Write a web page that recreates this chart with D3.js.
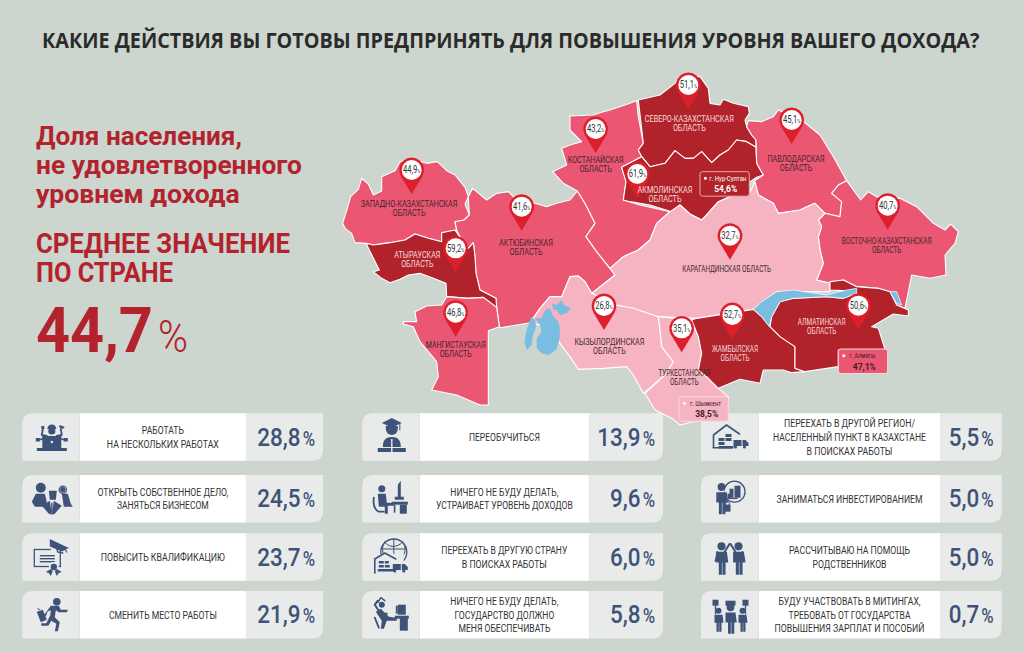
<!DOCTYPE html><html><head><meta charset="utf-8">
<style>html,body{margin:0;padding:0;background:#ccd5ce}svg{display:block}text{font-family:Roboto,sans-serif}</style>
<script src="https://cdnjs.cloudflare.com/ajax/libs/d3/7.8.5/d3.min.js"></script></head><body><svg id="c" width="1024" height="652"></svg>
<script>
// ---------- data ----------
const chartTitle="КАКИЕ ДЕЙСТВИЯ ВЫ ГОТОВЫ ПРЕДПРИНЯТЬ ДЛЯ ПОВЫШЕНИЯ УРОВНЯ ВАШЕГО ДОХОДА?";
const introLines=["Доля населения,","не удовлетворенного","уровнем дохода"];
const averageLines=["СРЕДНЕЕ ЗНАЧЕНИЕ","ПО СТРАНЕ"];
const nationalAverage=44.7;

const regionNames=[["ЗАПАДНО-КАЗАХСТАНСКАЯ","ОБЛАСТЬ"],["АКТЮБИНСКАЯ","ОБЛАСТЬ"],["АТЫРАУСКАЯ","ОБЛАСТЬ"],["МАНГИСТАУСКАЯ","ОБЛАСТЬ"],["КОСТАНАЙСКАЯ","ОБЛАСТЬ"],["СЕВЕРО-КАЗАХСТАНСКАЯ","ОБЛАСТЬ"],["АКМОЛИНСКАЯ","ОБЛАСТЬ"],["ПАВЛОДАРСКАЯ","ОБЛАСТЬ"],["ВОСТОЧНО-КАЗАХСТАНСКАЯ","ОБЛАСТЬ"],["КАРАГАНДИНСКАЯ ОБЛАСТЬ"],["КЫЗЫЛОРДИНСКАЯ","ОБЛАСТЬ"],["ТУРКЕСТАНСКАЯ","ОБЛАСТЬ"],["ЖАМБЫЛСКАЯ","ОБЛАСТЬ"],["АЛМАТИНСКАЯ","ОБЛАСТЬ"]];
const regionShares=[44.9,41.6,59.2,46.8,43.2,51.1,61.9,45.1,40.7,32.7,26.8,35.1,52.7,50.6];
const cityNames=["г. Нур-Султан","г. Алматы","г. Шымкент"];
const cityShares=[54.6,47.1,38.5];

const actionLabels=[["РАБОТАТЬ","НА НЕСКОЛЬКИХ РАБОТАХ"],["ОТКРЫТЬ СОБСТВЕННОЕ ДЕЛО,","ЗАНЯТЬСЯ БИЗНЕСОМ"],["ПОВЫСИТЬ КВАЛИФИКАЦИЮ"],["СМЕНИТЬ МЕСТО РАБОТЫ"],["ПЕРЕОБУЧИТЬСЯ"],["НИЧЕГО НЕ БУДУ ДЕЛАТЬ,","УСТРАИВАЕТ УРОВЕНЬ ДОХОДОВ"],["ПЕРЕЕХАТЬ В ДРУГУЮ СТРАНУ","В ПОИСКАХ РАБОТЫ"],["НИЧЕГО НЕ БУДУ ДЕЛАТЬ,","ГОСУДАРСТВО ДОЛЖНО","МЕНЯ ОБЕСПЕЧИВАТЬ"],["ПЕРЕЕХАТЬ В ДРУГОЙ РЕГИОН/","НАСЕЛЕННЫЙ ПУНКТ В КАЗАХСТАНЕ","В ПОИСКАХ РАБОТЫ"],["ЗАНИМАТЬСЯ ИНВЕСТИРОВАНИЕМ"],["РАССЧИТЫВАЮ НА ПОМОЩЬ","РОДСТВЕННИКОВ"],["БУДУ УЧАСТВОВАТЬ В МИТИНГАХ,","ТРЕБОВАТЬ ОТ ГОСУДАРСТВА","ПОВЫШЕНИЯ ЗАРПЛАТ И ПОСОБИЙ"]];
const actionValues=[28.8,24.5,23.7,21.9,13.9,9.6,6.0,5.8,5.5,5.0,5.0,0.7];

// map geometry, in the map's own coordinate system
const regionOutlines=[
[[8,490],[22,445],[32,410],[55,388],[65,355],[85,372],[100,405],[125,393],[125,350],[165,332],[180,305],[215,298],[260,310],[292,305],[320,332],[345,345],[375,382],[385,410],[375,432],[388,465],[372,480],[345,485],[350,510],[305,518],[305,545],[265,535],[225,522],[195,540],[150,548],[100,555],[78,550],[45,548],[35,520],[15,505]],
[[345,485],[372,480],[388,465],[385,410],[398,385],[440,420],[470,400],[505,395],[530,420],[585,430],[620,440],[650,430],[690,420],[712,393],[735,430],[765,490],[738,530],[770,575],[810,625],[825,645],[755,700],[735,665],[715,648],[690,650],[665,710],[630,710],[600,745],[570,788],[483,803],[478,800],[470,742],[468,715],[420,690],[408,640],[405,590],[400,548],[385,565],[365,540],[350,510]],
[[78,550],[100,555],[150,548],[195,540],[225,522],[265,535],[305,545],[305,518],[345,510],[365,540],[385,565],[400,548],[405,590],[408,640],[420,690],[468,715],[470,742],[430,712],[385,715],[320,710],[318,670],[280,655],[240,640],[205,645],[180,658],[150,668],[125,655],[100,635],[118,630]],
[[320,710],[385,715],[430,712],[470,742],[478,800],[445,812],[445,1035],[420,1035],[350,1005],[275,990],[295,950],[290,905],[240,845],[220,800],[190,792],[190,785],[230,785],[225,755],[260,738],[305,735]],
[[690,168],[760,165],[790,155],[810,150],[855,135],[890,122],[895,170],[910,250],[895,270],[905,290],[845,322],[858,365],[850,420],[900,435],[990,455],[950,490],[930,540],[895,570],[850,590],[810,625],[770,575],[738,530],[765,490],[735,430],[712,393],[670,370],[638,335],[680,315],[665,265],[690,255],[725,245],[690,210]],
[[895,120],[960,105],[1005,70],[1020,50],[1080,50],[1105,85],[1110,130],[1140,135],[1150,118],[1180,130],[1225,140],[1228,160],[1215,180],[1220,200],[1235,225],[1248,240],[1248,262],[1220,245],[1190,240],[1165,270],[1140,285],[1115,308],[1085,275],[1060,295],[1035,295],[1005,272],[975,310],[930,320],[905,290],[895,270],[910,250]],
[[845,322],[905,290],[930,320],[975,310],[1005,272],[1035,295],[1060,295],[1085,275],[1115,308],[1140,285],[1165,270],[1190,240],[1220,245],[1248,262],[1250,310],[1270,345],[1250,352],[1230,365],[1228,405],[1170,410],[1135,425],[1095,470],[1085,480],[1050,462],[1020,435],[995,455],[930,435],[870,425],[850,420],[858,365]],
[[1225,182],[1265,185],[1300,170],[1315,150],[1385,180],[1440,225],[1480,290],[1520,362],[1495,375],[1475,400],[1505,425],[1500,470],[1455,460],[1425,430],[1400,440],[1380,450],[1315,460],[1300,430],[1255,405],[1240,365],[1270,345],[1250,310],[1248,240],[1235,225],[1220,200]],
[[1520,362],[1562,420],[1585,395],[1610,410],[1680,415],[1730,440],[1780,490],[1815,510],[1832,492],[1855,515],[1845,550],[1815,585],[1818,645],[1770,655],[1715,645],[1695,745],[1670,735],[1650,695],[1615,685],[1550,680],[1510,660],[1470,670],[1430,660],[1450,610],[1440,570],[1435,530],[1445,500],[1435,480],[1455,460],[1500,470],[1505,425],[1475,400],[1495,375]],
[[990,455],[1020,435],[1050,462],[1085,480],[1095,470],[1135,425],[1170,410],[1228,400],[1245,365],[1255,405],[1300,430],[1315,460],[1380,450],[1425,430],[1455,460],[1435,480],[1445,500],[1435,530],[1440,570],[1450,610],[1430,660],[1470,670],[1470,695],[1310,695],[1270,725],[1240,748],[1070,775],[955,770],[870,745],[830,735],[755,700],[825,645],[810,625],[850,590],[895,570],[930,540],[950,490]],
[[690,650],[715,648],[735,665],[755,700],[825,735],[880,745],[955,770],[960,810],[965,860],[1000,905],[975,945],[910,1000],[880,945],[860,920],[790,925],[715,928],[690,890],[660,850],[640,800],[570,790],[600,745],[630,710],[665,710]],
[[955,770],[1055,780],[1075,830],[1085,880],[1075,930],[1100,950],[1135,985],[1165,1010],[1160,1075],[1060,1085],[1020,1095],[1000,1078],[945,1050],[915,1000],[975,945],[1000,905],[965,860],[960,810]],
[[1070,775],[1240,748],[1265,770],[1290,800],[1320,830],[1365,860],[1365,925],[1395,935],[1355,938],[1330,930],[1270,930],[1260,970],[1200,958],[1135,985],[1100,950],[1075,930],[1085,880],[1075,830],[1055,780]],
[[1470,665],[1510,660],[1550,680],[1615,685],[1650,695],[1670,735],[1705,750],[1705,768],[1660,762],[1595,800],[1615,805],[1635,868],[1495,870],[1495,920],[1395,935],[1365,925],[1365,860],[1320,830],[1290,800],[1295,770],[1320,725],[1360,715],[1460,710],[1510,715],[1550,700],[1510,692],[1470,690]]
];
const lakeOutlines=[
[[1240,748],[1265,725],[1310,695],[1360,690],[1460,705],[1520,690],[1550,685],[1550,700],[1510,715],[1460,710],[1360,715],[1320,725],[1295,770],[1288,800],[1265,770]],
[[1650,695],[1670,695],[1685,735],[1670,730]],
[[585,775],[605,775],[615,750],[630,745],[640,770],[655,785],[660,810],[658,840],[648,870],[625,885],[605,880],[590,865],[590,835],[605,815],[600,795]],
[[573,770],[585,780],[588,800],[578,830],[575,855],[560,870],[553,845],[560,810]],
[[635,732],[650,735],[665,720],[672,735],[692,745],[680,760],[660,765],[650,750],[640,748]]
];
const regionPins=[[215,330],[545,440],[347,565],[347,758],[767,207],[1045,75],[892,342],[1355,180],[1643,437],[1170,527],[792,738],[1025,805],[1177,765],[1555,737]];
const regionLabelAnchors=[[207,430],[558,547],[232,585],[347,855],[767,298],[1048,176],[975,390],[1368,297],[1640,542],[1160,627],[808,845],[1033,937],[1185,865],[1445,786]];
const regionLabelWidths=[97,54,46,60,56,89,55,57,90,89,70,52,46,48];
const cityBoxes=[[1080,335],[1495,867],[1017,1010]];
const cityNameWidths=[37,26,31];
const cityNameInsets=[9.3,11,11];
const cityValueCentres=[25.7,26,27.7];
const actionLineWidths=[[42,112],[131,92],[124],[108],[71],[108,137],[126,85],[108,100,92],[131,153,86],[146],[121,74],[142,122,150]];

// ---------- scales ----------
const svg=d3.select('#c');
const RED='#b2232e', NAVY='#3f5379', INK='#333333';
const shareFill=d3.scaleThreshold().domain([40,50]).range(['#f6b3c1','#eb5673','#b1222b']);
const shareInk=d3.scaleThreshold().domain([50]).range(['#40282c','#f6dcdc']);
const ruFormat=d3.formatLocale({decimal:",",thousands:" ",grouping:[3],currency:["","₸"]}).format(".1f");
const projection=d3.geoIdentity().scale(1/3).translate([340,60]);
const geoPath=d3.geoPath(projection);
const columnLeft=d3.scaleOrdinal([0,1,2],[22.3,362.3,701]);
const rowTop=d3.scaleOrdinal([0,1,2,3],[413.3,475,533.3,591]);
const panelLeft=d3.scaleOrdinal([0,1,2],[80,420,759]);
const panelRight=d3.scaleOrdinal([0,1,2],[245.7,588.7,940]);
const CARD_W=300.7, CARD_H=47.4;

function label(parent,t,o){
  const el=parent.append('text').attr('text-anchor',o.anchor||'start')
    .style('font-family',o.font||'Roboto').style('font-size',o.size+'px').style('font-weight',o.weight||400)
    .attr('fill',o.fill||INK).text(t);
  let k=o.k||1;
  if(o.width) k=o.width/el.node().getComputedTextLength();
  el.attr('transform',`translate(${o.x},${o.y}) scale(${k},1)`);
  el.datum(k);
  return el;
}

// ---------- header ----------
svg.append('rect').attr('width',1024).attr('height',652).attr('fill','#ccd5ce');
label(svg,chartTitle,{x:42,y:47.5,size:21,weight:700,font:'Open Sans',fill:'#2b2b2b',width:938});
const introW=[206,266,204], introY=[145,174,203];
introLines.forEach((t,i)=>label(svg,t,{x:36,y:introY[i],size:25,weight:700,fill:RED,width:introW[i]}));
const avgW=[254,137], avgY=[253,282];
averageLines.forEach((t,i)=>label(svg,t,{x:36,y:avgY[i],size:27.5,weight:700,fill:RED,width:avgW[i]}));
label(svg,ruFormat(nationalAverage),{x:36,y:352,size:63,weight:700,fill:RED,width:117});
label(svg,'%',{x:158,y:352,size:45,weight:300,fill:RED,width:30});

// ---------- action cards ----------
const ICON={
 c:(g,x,y,r)=>g.append('circle').attr('cx',x).attr('cy',y).attr('r',r).attr('fill',NAVY),
 o:(g,x,y,r,w)=>g.append('circle').attr('cx',x).attr('cy',y).attr('r',r).attr('fill','none').attr('stroke',NAVY).attr('stroke-width',w||1.2),
 r:(g,x,y,w,h)=>g.append('rect').attr('x',x).attr('y',y).attr('width',w).attr('height',h).attr('fill',NAVY),
 b:(g,x,y,w,h,s)=>g.append('rect').attr('x',x).attr('y',y).attr('width',w).attr('height',h).attr('fill','none').attr('stroke',NAVY).attr('stroke-width',s||1.2),
 p:(g,d)=>g.append('path').attr('d',d).attr('fill',NAVY),
 l:(g,d,w)=>g.append('path').attr('d',d).attr('fill','none').attr('stroke',NAVY).attr('stroke-width',w||2).attr('stroke-linecap','round').attr('stroke-linejoin','round'),
 man:(g,x,y,s)=>{ICON.c(g,x,y-9*s,3*s);ICON.p(g,`M${x-4*s} ${y-5*s}h${8*s}l${1*s} ${8*s}h${-2*s}v${9*s}h${-2.3*s}v${-9*s}h${-.4*s}v${9*s}h${-2.3*s}v${-9*s}h${-2*s}z`);},
 truck:(g,x,y)=>{ICON.r(g,x,y,8,6);ICON.p(g,`M${x+9} ${y}h3l3 3v3h-6z`);ICON.c(g,x+2,y+7,1.6);ICON.c(g,x+11,y+7,1.6);}
};
const iconDraw=[
 g=>{ICON.r(g,-15,11,30,3);ICON.r(g,-9.5,-1,19,12);g.append('circle').attr('cx',0).attr('cy',5).attr('r',1.2).attr('fill','#e9ebea');
     ICON.c(g,0,-6,3.6);ICON.p(g,'M-4.5 -8a4.5 4.5 0 0 1 9 0z');ICON.l(g,'M-5 -1L-10 -2L-9 -8',1.8);ICON.l(g,'M5 -1L10 -2L9 -8',1.8);ICON.l(g,'M-7 1L-13 3',1.8);ICON.l(g,'M7 1L13 3',1.8);
     ICON.r(g,-10.5,-11,3,3);ICON.p(g,'M8 -12l5 2l-2 2l-4 -2z');ICON.r(g,-16,1,4,3.5);ICON.r(g,12,1,4,3.5);},
 g=>{ICON.c(g,-11,-11,5);ICON.p(g,'M-16 -5h9l2 8l-2 5h-10l-3 -5z');ICON.p(g,'M10 -5h6l3 10l2 3h-9z');ICON.c(g,11,-9,2.6);ICON.o(g,11,-9,3.6,1.3);
     ICON.p(g,'M-3 -8h8l-1 9h-6z');ICON.p(g,'M-10 7l8 -5l2 14l-3 -1z');ICON.p(g,'M10 7l-8 -5l-2 14l3 -1z');ICON.r(g,-.7,4,1.4,10);},
 g=>{ICON.b(g,-17.5,-7.5,26,17,1.3);ICON.r(g,-12,-2,15,1.4);ICON.r(g,-12,1,15,1.4);ICON.r(g,-12,4,15,1.4);
     g.append('rect').attr('x',-1).attr('y',-15).attr('width',17).attr('height',9).attr('fill','#e9ebea');
     ICON.p(g,'M-2 -18l19 9l-7 3.5l-12 -5z');ICON.l(g,'M5 -8l1 3l5 1',1.4);ICON.l(g,'M12 -9l3 4',1.2);
     g.append('circle').attr('cx',2).attr('cy',10).attr('r',5).attr('fill','#e9ebea');ICON.c(g,2,10,3.2);ICON.p(g,'M-1 12l-5 3l3 1l2 3l2 -5z');ICON.p(g,'M5 12l5 3l-3 1l-2 3l-2 -5z');},
 g=>{ICON.c(g,5,-13,3.8);ICON.p(g,'M-1 -9h8l2 4h7l-1 2.5h-8l-3 -2l-1 7l5 5l-2 9h-3l1.5 -7.5l-5 -3l-3 5h-7v-2.5h5l4 -8l.5 -5l-3 1l-2 5h-2.5z');
     ICON.p(g,'M-15 -3l6 -2l4 10l-6 2.5z');ICON.l(g,'M-12 -5l-2 -1',1);},
 g=>{ICON.p(g,'M-10 -14l10 -5l10 5l-10 4.5z');ICON.l(g,'M8 -13v6',1);ICON.p(g,'M-6 -11h12v3a6 6 0 0 1-12 0z');ICON.p(g,'M-9 10c0 -7 3 -10 9 -10s9 3 9 10z');
     ICON.r(g,-14,11,28,4);g.append('rect').attr('x',-.7).attr('y',2).attr('width',1.4).attr('height',14).attr('fill','#e9ebea');},
 g=>{ICON.c(g,-10,-10,3.5);ICON.p(g,'M-14 -5h8l1 9h7v3h-6v8h-3v-7h-6z');ICON.l(g,'M-18 -1c-1 8 1 12 5 14h5',1.8);ICON.r(g,0,3,16,3);ICON.r(g,8,6,7,9);ICON.r(g,2,6,1.6,8);
     ICON.p(g,'M6 -14l3 -4v16h3v3h-9v-3h3z');},
 g=>{ICON.o(g,2,-5,13,1.3);ICON.l(g,'M-10 -8h24M2 -18v26M-7 -15c4 6 12 6 18 0',1);ICON.l(g,'M-7 -15q-5 8 0 14M11 -15q5 8 0 14',1);
     g.append('rect').attr('x',-18).attr('y',-3).attr('width',30).attr('height',22).attr('fill','#e9ebea');
     ICON.l(g,'M-17 16V2L-7 -4L4 2',1.6);ICON.r(g,-13,4,5,2.5);ICON.r(g,-13,8,5,2.5);ICON.r(g,-7,4,4,2.5);ICON.r(g,-7,8,5,2.5);ICON.r(g,-14,12,17,2.5);ICON.truck(g,1,7);},
 g=>{ICON.l(g,'M-14 -14l-3 4l6 9h6',2);ICON.c(g,-10,-10,3);ICON.l(g,'M-14 -12l3 -5l4 3',1.5);ICON.p(g,'M-16 -3l5 -3l8 8l8 1v3h-10l-3 8h-3l1 -8z');ICON.l(g,'M-17 3l4 10',1.8);
     ICON.r(g,6,-10,8,10);ICON.r(g,3,1,14,3);ICON.r(g,8,3,8,13);ICON.p(g,'M4 -9h2v8h-2z');},
 g=>{ICON.l(g,'M-17 10V-2L-4 -12L9 -3',1.6);ICON.r(g,-12,1,6,3);ICON.r(g,-12,5,6,3);ICON.r(g,-5,-3,6,3);ICON.r(g,-5,1,6,3);ICON.r(g,-12,9,15,2.5);ICON.r(g,-18,10,20,1.5);ICON.truck(g,3,3);},
 g=>{ICON.o(g,4,-7,10.5,1.3);g.append('rect').attr('x',-14).attr('y',-10).attr('width',8).attr('height',20).attr('fill','#e9ebea');
     ICON.man(g,-9,0,1.3);ICON.r(g,-1,-10,4,9);ICON.r(g,4,-13,6,12);ICON.r(g,-3,-5,3,5);ICON.r(g,-2,-1,9,1.4);ICON.p(g,'M-6 6h6v7h-6z');ICON.o(g,-3,5,2,1);},
 g=>{ICON.man(g,-9,1.5,1.35);ICON.man(g,8,1.5,1.35);ICON.l(g,'M-6 -5L-1 -13',2);ICON.l(g,'M5 -5L0 -13',2);ICON.l(g,'M-13 -5l-2 9',1.8);ICON.l(g,'M12 -5l2 9',1.8);},
 g=>{ICON.man(g,-12,5,1);ICON.man(g,0,4,1.25);ICON.man(g,12,5,1);ICON.r(g,-5,-14,10,5);ICON.r(g,-18,-15,6,6);ICON.r(g,12,-15,6,6);ICON.l(g,'M-15 -9V-1',1.3);ICON.l(g,'M15 -9V-1',1.3);ICON.l(g,'M-3 -9v3M3 -9v3',1.3);}
];
actionValues.forEach((v,i)=>{
  const col=Math.floor(i/4), row=i%4;
  const x=columnLeft(col), y=rowTop(row), cy=y+CARD_H/2;
  const g=svg.append('g');
  g.append('path').attr('fill','#e9ebea').attr('d',
    `M${x+11} ${y}H${x+CARD_W}V${y+CARD_H-11}Q${x+CARD_W} ${y+CARD_H} ${x+CARD_W-11} ${y+CARD_H}H${x}V${y+11}Q${x} ${y} ${x+11} ${y}Z`);
  g.append('rect').attr('x',panelLeft(col)-1.2).attr('y',y).attr('width',1.2).attr('height',CARD_H).attr('fill','#dfe2e0');
  g.append('rect').attr('x',panelLeft(col)).attr('y',y).attr('width',panelRight(col)-panelLeft(col)).attr('height',CARD_H).attr('fill','#fff');
  const mid=(panelLeft(col)+panelRight(col))/2, lines=actionLabels[i];
  lines.forEach((t,j)=>label(g,t,{x:mid,y:cy+3.8+(j-(lines.length-1)/2)*13.8,anchor:'middle',size:11.2,width:actionLineWidths[i][j],fill:INK}));
  const right=x+CARD_W;
  label(g,ruFormat(v),{x:right-22.5,y:cy+8.5,anchor:'end',size:25.5,weight:500,k:.88,fill:NAVY});
  label(g,'%',{x:right-8,y:cy+8.5,anchor:'end',size:21,weight:500,k:.8,fill:NAVY});
  iconDraw[i](g.append('g').attr('transform',`translate(${x+29.5},${cy})`));
});

// ---------- map (drawn over the cards, as its southern tip overlaps them) ----------
const map=svg.append('g');
const poly=c=>({type:'Polygon',coordinates:[[...c,c[0]]]});
map.selectAll('path.region').data(regionOutlines).join('path').attr('class','region')
  .attr('d',d=>geoPath(poly(d))).attr('fill',(d,i)=>shareFill(regionShares[i]))
  .attr('stroke','#fff').attr('stroke-width',1.1).attr('stroke-linejoin','round');
map.selectAll('path.lake').data(lakeOutlines).join('path').attr('class','lake')
  .attr('d',d=>geoPath(poly(d))).attr('fill','#79bde0')
  .attr('stroke',(d,i)=>i<2?'#fff':'none').attr('stroke-width',.7);

function pinPath(r,tip){
  const a=Math.acos(r/tip), p=d3.path();
  const s=Math.PI/2-a, e=Math.PI/2+a;
  p.moveTo(0,tip);
  p.lineTo(r*Math.cos(s),r*Math.sin(s));
  p.arc(0,0,r,s,e,true);
  p.closePath();
  return p.toString();
}
const pins=map.selectAll('g.pin').data(regionPins).join('g').attr('class','pin')
  .attr('transform',d=>{const p=projection(d);return `translate(${p[0]},${p[1]})`});
pins.append('path').attr('d',pinPath(12.4,24)).attr('fill','#dc1f2a');
pins.append('circle').attr('r',10).attr('fill','#fff');
pins.each(function(d,i){
  const el=d3.select(this).append('text').attr('text-anchor','middle').attr('y',3.2).attr('fill','#333')
    .style('font-size','10px').attr('transform','scale(.76,1)');
  el.append('tspan').text(ruFormat(regionShares[i]));
  el.append('tspan').style('font-size','5.5px').text('%');
});
regionNames.forEach((lines,i)=>{
  const p=projection(regionLabelAnchors[i]);
  const tmp=label(map,lines[0],{x:p[0],y:p[1]+3.2,anchor:'middle',size:9,width:regionLabelWidths[i],fill:shareInk(regionShares[i])});
  const k=tmp.datum();
  if(lines[1]) label(map,lines[1],{x:p[0],y:p[1]+12.4,anchor:'middle',size:9,k:k,fill:shareInk(regionShares[i])});
});
cityBoxes.forEach((b,i)=>{
  const p=projection(b), f=shareFill(cityShares[i]);
  const g=map.append('g').attr('transform',`translate(${p[0]},${p[1]})`);
  g.append('rect').attr('width',49.3).attr('height',24.5).attr('rx',2.5)
    .attr('fill',f).attr('stroke',i===0?'#e6a8ae':'#f7d9df').attr('stroke-width',1);
  const ink=cityShares[i]>=50?'#fff':'#3b2226';
  g.append('circle').attr('cx',5.4).attr('cy',6.7).attr('r',1.5).attr('fill','#fff');
  label(g,cityNames[i],{x:cityNameInsets[i],y:9.2,size:7.2,width:cityNameWidths[i],fill:ink});
  label(g,ruFormat(cityShares[i])+'%',{x:cityValueCentres[i],y:20.8,anchor:'middle',size:9.5,weight:700,width:23,fill:ink});
});
</script></body></html>
